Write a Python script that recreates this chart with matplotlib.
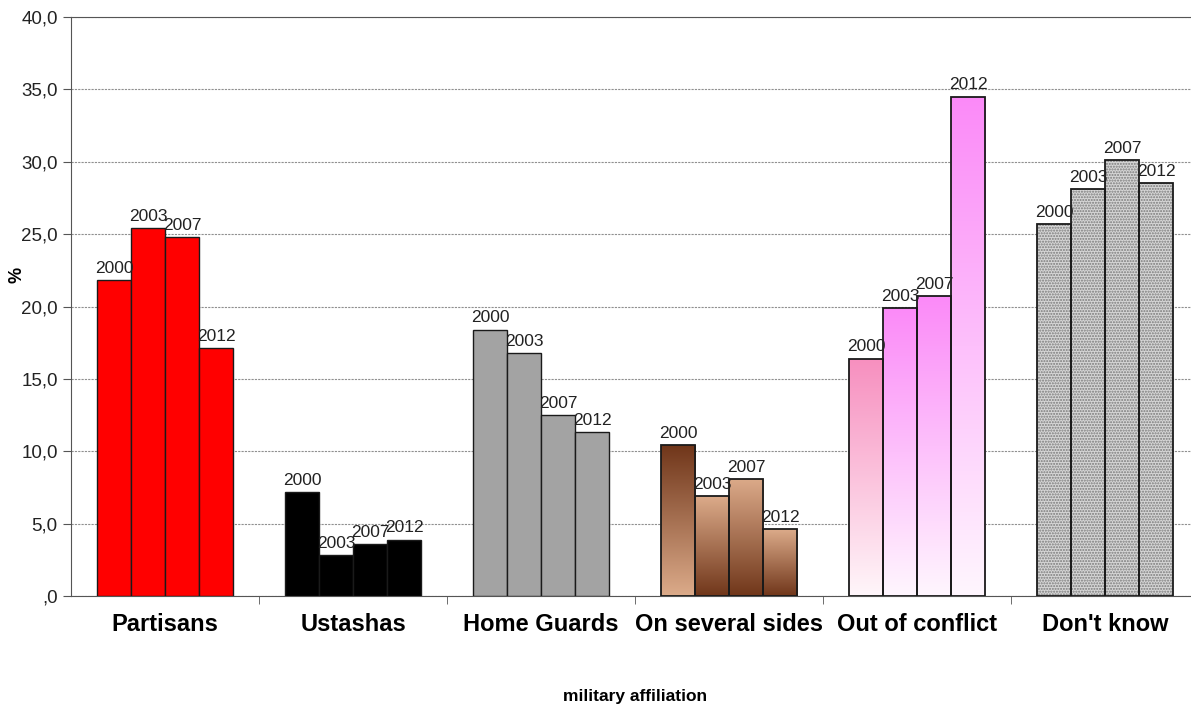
import numpy as np
import matplotlib
matplotlib.use("Agg")
import matplotlib.pyplot as plt
from matplotlib.colors import LinearSegmentedColormap
from matplotlib.ticker import FuncFormatter

plt.rcParams["font.family"] = ["Liberation Sans", "DejaVu Sans"]

categories = ["Partisans", "Ustashas", "Home Guards", "On several sides",
              "Out of conflict", "Don't know"]
years = ["2000", "2003", "2007", "2012"]

# share (%) per category, one list per survey year
pct_2000 = [21.8, 7.2, 18.4, 10.4, 16.4, 25.7]
pct_2003 = [25.4, 2.8, 16.8, 6.9, 19.9, 28.1]
pct_2007 = [24.8, 3.6, 12.5, 8.1, 20.7, 30.1]
pct_2012 = [17.1, 3.9, 11.3, 4.6, 34.5, 28.5]
series = [pct_2000, pct_2003, pct_2007, pct_2012]

bar_w = 0.181

fig = plt.figure(figsize=(11.91, 7.08), dpi=100)
ax = fig.add_axes([71 / 1191, 112 / 708, 1128 / 1191, 579 / 708])

x = np.arange(len(categories))

# vertical gradients (top colour, bottom colour) for the shaded groups
brown_dark, brown_light = "#70361a", "#dcab8a"
gradients = {
    3: [(brown_dark, brown_light), (brown_light, brown_dark),
        (brown_light, brown_dark), (brown_light, brown_dark)],
    4: [("#f78fbf", "#fff6fa"), ("#fb8af8", "#fff6fe"),
        ("#fb8af8", "#fff6fe"), ("#fb8af8", "#fff6fe")],
}
flat = {0: "#ff0000", 1: "#000000", 2: "#a3a3a3"}

for j, vals in enumerate(series):
    pos = x + (j - 1.5) * bar_w
    for i, (p, v) in enumerate(zip(pos, vals)):
        if i in flat:
            ax.bar(p, v, bar_w, color=flat[i], edgecolor="#1a1a1a",
                   linewidth=1.0, zorder=3)
        elif i in gradients:
            top, bottom = gradients[i][j]
            cmap = LinearSegmentedColormap.from_list("g", [bottom, top])
            rect = ax.bar(p, v, bar_w, facecolor="none", edgecolor="#1a1a1a",
                          linewidth=1.3, zorder=4)[0]
            grad = np.linspace(0, 1, 256).reshape(-1, 1)
            im = ax.imshow(grad, cmap=cmap, aspect="auto", origin="lower",
                           extent=[p - bar_w / 2, p + bar_w / 2, 0, v],
                           zorder=3)
            im.set_clip_path(rect)
        else:
            ax.bar(p, v, bar_w, color="#d6d6d6", edgecolor="#7a7a7a",
                   hatch="......", linewidth=0, zorder=3)
            ax.bar(p, v, bar_w, facecolor="none", edgecolor="#1a1a1a",
                   linewidth=1.3, zorder=4)
        ax.annotate(years[j], (p, v), xytext=(0, 3),
                    textcoords="offset points", ha="center", va="bottom",
                    fontsize=12.5, color="#222222", zorder=5)

ax.set_xlim(-0.5, len(categories) - 0.5)
ax.set_ylim(0, 40)
ax.set_yticks(np.arange(0, 41, 5))
ax.yaxis.set_major_formatter(
    FuncFormatter(lambda v, _: ",0" if v == 0 else f"{v:.1f}".replace(".", ",")))
ax.tick_params(axis="y", labelsize=13.5, length=6, color="#555555",
               labelcolor="#222222")

ax.set_xticks(x)
ax.set_xticklabels(categories, fontsize=17, fontweight="bold")
ax.set_xticks(x[:-1] + 0.5, minor=True)
ax.tick_params(axis="x", which="major", length=0, pad=12)
ax.tick_params(axis="x", which="minor", length=6, color="#555555")

ax.yaxis.grid(True, linestyle=(0, (2, 1)), color="#909090", linewidth=0.8,
              zorder=0)
ax.set_axisbelow(True)
for side in ["left", "bottom", "top"]:
    ax.spines[side].set_color("#555555")
ax.spines["right"].set_visible(False)

fig.text(17 / 1191, 1 - 275 / 708, "%", rotation=90, fontsize=13,
         fontweight="bold", ha="center", va="center")
fig.text(635 / 1191, 1 - 697 / 708, "military affiliation", fontsize=12.5,
         fontweight="bold", ha="center", va="center")

fig.savefig("out.png", dpi=100)
